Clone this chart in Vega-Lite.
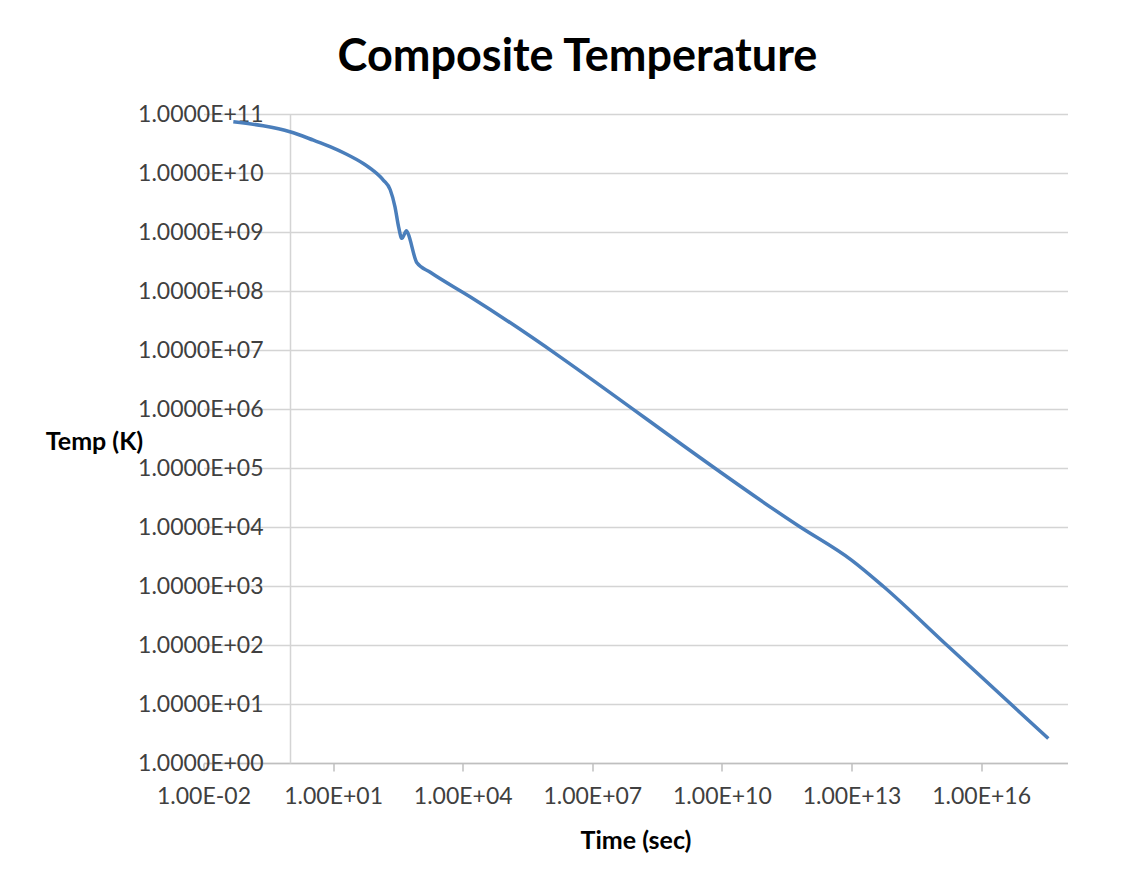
{
  "$schema": "https://vega.github.io/schema/vega-lite/v6.json",
  "autosize": "none",
  "width": 864,
  "height": 649,
  "padding": {"left": 203.5, "top": 114, "right": 69.5, "bottom": 119},
  "background": "white",
  "title": {
    "text": "Composite Temperature",
    "font": "Lato",
    "fontSize": 45,
    "fontWeight": "bold",
    "color": "#000000",
    "anchor": "middle",
    "baseline": "alphabetic",
    "offset": -13,
    "dx": -58
  },
  "config": {
    "view": {"stroke": null},
    "font": "Lato"
  },
  "data": {
    "values": [
      {"t": 0.049, "T": 7.4e10},
      {"t": 0.24, "T": 6.3e10},
      {"t": 1.0, "T": 5.0e10},
      {"t": 3.5, "T": 3.6e10},
      {"t": 8.5, "T": 2.8e10},
      {"t": 20, "T": 2.1e10},
      {"t": 50, "T": 1.45e10},
      {"t": 85, "T": 1.1e10},
      {"t": 145, "T": 7.6e9},
      {"t": 210, "T": 5.2e9},
      {"t": 270, "T": 2.7e9},
      {"t": 330, "T": 1.2e9},
      {"t": 390, "T": 7.8e8},
      {"t": 500, "T": 1.05e9},
      {"t": 540, "T": 9.5e8},
      {"t": 870, "T": 3.0e8},
      {"t": 1740, "T": 2.1e8},
      {"t": 14800, "T": 8.0e7},
      {"t": 6.5e11, "T": 1.0e4},
      {"t": 1.0e13, "T": 2750},
      {"t": 5.5e13, "T": 980},
      {"t": 1.6e15, "T": 100},
      {"t": 3.6e17, "T": 2.6}
    ]
  },
  "mark": {"type": "line", "color": "#4a7ebb", "strokeWidth": 3.5, "interpolate": "monotone", "clip": true},
  "encoding": {
    "x": {
      "field": "t",
      "type": "quantitative",
      "scale": {"type": "log", "domain": [0.01, 1e18], "nice": false},
      "axis": {
        "values": [0.01, 10, 10000, 1e7, 1e10, 1e13, 1e16],
        "labelExpr": "'1.00E' + (round(log(datum.value)/LN10) < 0 ? '-' : '+') + (abs(round(log(datum.value)/LN10)) < 10 ? '0' : '') + abs(round(log(datum.value)/LN10))",
        "labelOverlap": false,
        "labelFlush": false,
        "grid": false,
        "domainColor": "#bfbfbf",
        "domainWidth": 1.5,
        "tickColor": "#bfbfbf",
        "tickWidth": 1.5,
        "tickSize": 8,
        "labelFont": "Lato",
        "labelFontSize": 23,
        "labelColor": "#404040",
        "labelPadding": 14,
        "title": "Time (sec)",
        "titleFont": "Lato",
        "titleFontSize": 25,
        "titleFontWeight": "bold",
        "titleColor": "#000000",
        "titlePadding": 20
      }
    },
    "y": {
      "field": "T",
      "type": "quantitative",
      "scale": {"type": "log", "domain": [1, 1e11], "nice": false},
      "axis": {
        "values": [1, 10, 100, 1000, 10000, 100000, 1e6, 1e7, 1e8, 1e9, 1e10, 1e11],
        "labelExpr": "'1.0000E+' + (round(log(datum.value)/LN10) < 10 ? '0' : '') + round(log(datum.value)/LN10)",
        "labelOverlap": false,
        "labelFlush": false,
        "offset": -86.5,
        "grid": true,
        "gridColor": "#d4d4d4",
        "gridWidth": 1.5,
        "domainColor": "#d4d4d4",
        "domainWidth": 1.5,
        "ticks": false,
        "labelFont": "Lato",
        "labelFontSize": 23,
        "labelColor": "#404040",
        "labelPadding": 27,
        "title": "Temp (K)",
        "titleFont": "Lato",
        "titleFontSize": 25,
        "titleFontWeight": "bold",
        "titleColor": "#000000",
        "titleAngle": 0,
        "titleAlign": "center",
        "titleBaseline": "middle",
        "titleX": -196,
        "titleY": 327
      }
    }
  }
}
